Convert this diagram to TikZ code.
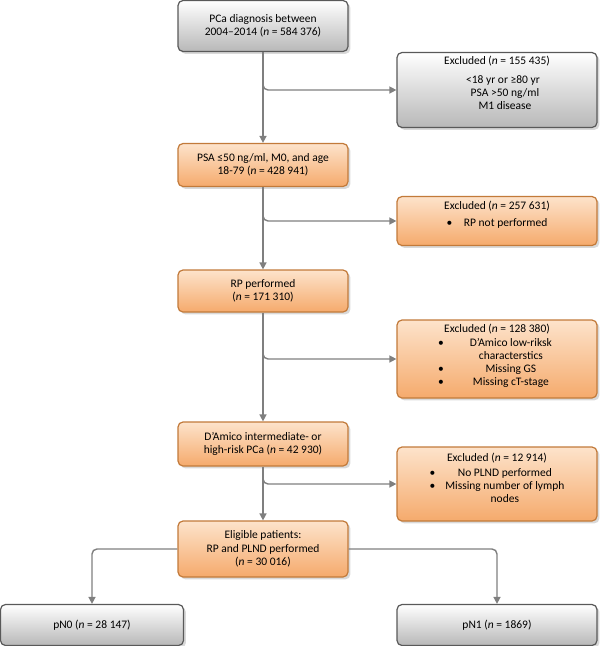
\documentclass[tikz,border=0pt]{standalone}
\usepackage{fontspec}
\setmainfont{Carlito}
\usetikzlibrary{positioning,arrows.meta,shadows}
\definecolor{edgegray}{HTML}{7F7F7F}
\definecolor{boxgray}{HTML}{595959}
\definecolor{orangeline}{HTML}{C27A3A}
\definecolor{orangetop}{HTML}{FDE3CB}
\definecolor{orangebot}{HTML}{F5AA6C}
\tikzset{
  graybox/.style={draw=boxgray, line width=1.2pt, rounded corners=5pt, top color=white, bottom color=black!28, drop shadow={opacity=0.3}, align=center, font=\fontsize{11.5}{13.5}\selectfont},
  orangebox/.style={draw=orangeline, line width=1.2pt, rounded corners=5pt, top color=orangetop, bottom color=orangebot, drop shadow={opacity=0.3}, align=center, font=\fontsize{11.5}{13.5}\selectfont},
  boxtext/.style={align=center, font=\fontsize{11.5}{13}\selectfont},
  flow/.style={draw=edgegray, line width=1.4pt, -{Triangle[width=7pt,length=7pt]}, rounded corners=5pt},
}
\begin{document}
\begin{tikzpicture}[x=1pt, y=-1pt]
    \useasboundingbox (0,0) rectangle (603,646);
    % main column
    \node[graybox, minimum width=170pt, minimum height=51pt] (diag) at (263,26) {PCa diagnosis between\\2004--2014 (\textit{n} = 584 376)};
    \node[orangebox, minimum width=170pt, minimum height=43pt] (psa) at (263,165) {PSA ≤50 ng/ml, M0, and age\\18-79 (\textit{n} = 428 941)};
    \node[orangebox, minimum width=170pt, minimum height=42pt] (rp) at (263,291) {RP performed\\(\textit{n} = 171 310)};
    \node[orangebox, minimum width=170pt, minimum height=44pt] (dam) at (263,444) {D’Amico intermediate- or\\high-risk PCa (\textit{n} = 42 930)};
    \node[orangebox, minimum width=170pt, minimum height=56pt] (elig) at (263,549) {Eligible patients:\\RP and PLND performed\\(\textit{n} = 30 016)};
    \node[graybox, minimum width=183pt, minimum height=41pt] (pn0) at (92,625) {pN0 (\textit{n} = 28 147)};
    \node[graybox, minimum width=200pt, minimum height=41pt] (pn1) at (497,625) {pN1 (\textit{n} = 1869)};

    % excluded boxes
    \node[graybox, minimum width=200pt, minimum height=75pt] (ex1) at (497,90) {};
    \node[below=1pt of ex1.north, boxtext] (ex1t) {Excluded (\textit{n} = 155 435)\\[6pt]\hspace*{12pt}<18 yr or ≥80 yr\\\hspace*{16pt}PSA >50 ng/ml\\\hspace*{16pt}M1 disease};
    \node[orangebox, minimum width=200pt, minimum height=49pt] (ex2) at (497,221) {};
    \node[below=2pt of ex2.north, boxtext] (ex2t) {Excluded (\textit{n} = 257 631)\\[4pt]•\quad RP not performed};
    \node[orangebox, minimum width=200pt, minimum height=78pt] (ex3) at (497,359) {};
    \node[below=0pt of ex3.north, boxtext] (ex3t) {\begin{tabular}{@{}c@{\hspace{22pt}}c@{}}\multicolumn{2}{c}{Excluded (\textit{n} = 128 380)}\\[1pt]•&D’Amico low-riksk\\&characterstics\\•&Missing GS\\•&Missing cT-stage\end{tabular}};
    \node[orangebox, minimum width=200pt, minimum height=74pt] (ex4) at (497,484) {};
    \node[below=2pt of ex4.north, boxtext] (ex4t) {\begin{tabular}{@{}c@{\hspace{10pt}}c@{}}\multicolumn{2}{c}{Excluded (\textit{n} = 12 914)}\\[2pt]•&No PLND performed\\•&Missing number of lymph\\&nodes\end{tabular}};

    % connectors
    \draw[flow] (diag) -- (psa);
    \draw[flow] (psa) -- (rp);
    \draw[flow] (rp) -- (dam);
    \draw[flow] (dam) -- (elig);
    \draw[flow] (263,80) |- (ex1.west);
    \draw[flow] (263,212) |- (ex2.west);
    \draw[flow] (263,350) |- (ex3.west);
    \draw[flow] (263,476) |- (ex4.west);
    \draw[flow] (elig.west) -| (pn0.north);
    \draw[flow] (elig.east) -| (pn1.north);
\end{tikzpicture}
\end{document}
